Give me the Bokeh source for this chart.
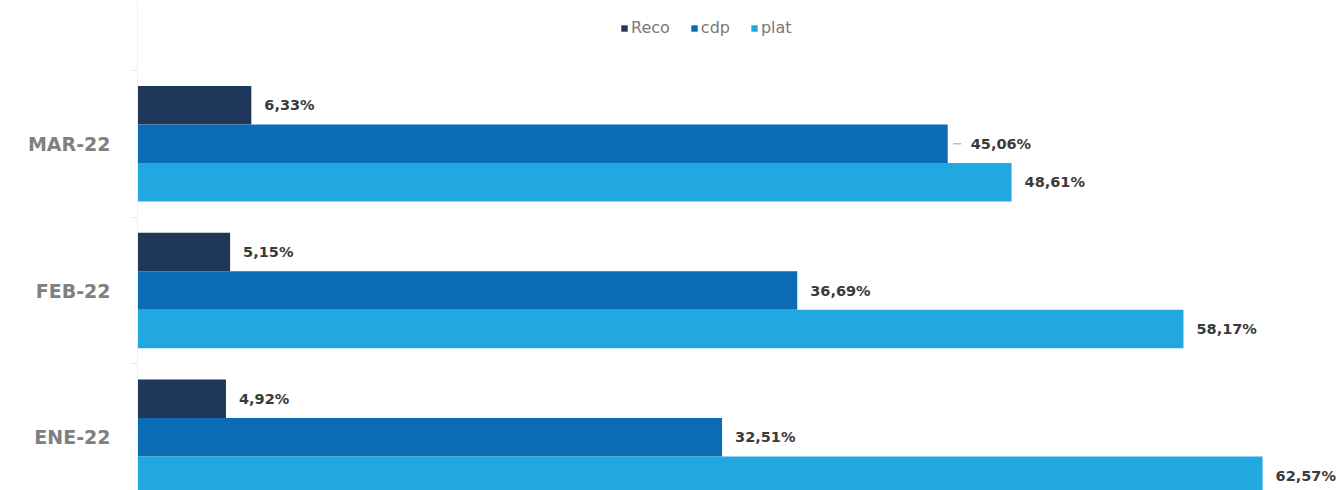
from bokeh.plotting import figure
from bokeh.models import ColumnDataSource, Range1d, FixedTicker, Legend, LegendItem
from bokeh.transform import dodge
from bokeh.core.properties import value
from bokeh.embed import file_html
from bokeh.resources import INLINE

# ---- data ----
months = ["ENE-22", "FEB-22", "MAR-22"]
reco = [4.92, 5.15, 6.33]
cdp = [32.51, 36.69, 45.06]
plat = [62.57, 58.17, 48.61]
series_names = ["Reco", "cdp", "plat"]
colors = ["#1e375a", "#0a6cb4", "#21a8e0"]


def fmt(v):
    return f"{v:.2f}".replace(".", ",") + "%"


pos = list(range(len(months)))
cdp_leader = [False, False, True]

src = ColumnDataSource(dict(
    pos=pos,
    Reco=reco, cdp=cdp, plat=plat,
    Reco_lbl=[fmt(v) for v in reco],
    cdp_lbl=[fmt(v) for v in cdp],
    plat_lbl=[fmt(v) for v in plat],
    cdp_off=[23 if l else 13 for l in cdp_leader],
))

BAR_H = 0.2625
offsets = [BAR_H, 0.0, -BAR_H]

p = figure(width=1343, height=490, output_backend="svg", toolbar_location=None,
           x_range=Range1d(0, 67.07), y_range=Range1d(-0.363, 2.977),
           min_border_left=137, min_border_right=0, min_border_top=0,
           min_border_bottom=0)

renderers = []
for name, col, off in zip(series_names, colors, offsets):
    r = p.hbar(y=dodge("pos", off), right=name, left=0, height=BAR_H,
               fill_color=col, line_color=None, source=src)
    renderers.append(r)
    p.text(x=name, y=dodge("pos", off), text=name + "_lbl", source=src,
           x_offset=("cdp_off" if name == "cdp" else 13),
           text_font=value("DejaVu Sans"), text_font_style="bold",
           text_font_size="14.5px", text_color="#3a3a3a",
           text_baseline="middle", text_align="left")

# small leader line for the offset label
lead_x0 = [v + 0.3 for v, l in zip(cdp, cdp_leader) if l]
lead_x1 = [v + 0.75 for v, l in zip(cdp, cdp_leader) if l]
lead_y = [pp for pp, l in zip(pos, cdp_leader) if l]
p.segment(x0=lead_x0, x1=lead_x1, y0=lead_y, y1=lead_y,
          line_color="#9a9a9a", line_width=1)

legend = Legend(items=[LegendItem(label=n, renderers=[r]) for n, r in zip(series_names, renderers)],
                orientation="horizontal", location=(483, 453),
                glyph_width=8, glyph_height=8, label_standoff=3, spacing=20,
                label_text_font="DejaVu Sans", label_text_font_size="16px",
                label_text_color="#787878", padding=2, margin=0,
                border_line_color=None, background_fill_alpha=0)
p.add_layout(legend, "center")

p.xaxis.visible = False
p.xgrid.visible = False
p.ygrid.visible = False
p.outline_line_color = None

yax = p.yaxis[0]
yax.ticker = FixedTicker(ticks=pos, minor_ticks=[i + 0.5 for i in pos])
yax.major_label_overrides = {i: m for i, m in zip(pos, months)}
yax.major_tick_line_color = None
yax.minor_tick_line_color = "#e2e2e2"
yax.minor_tick_out = 5
yax.minor_tick_in = 0
yax.axis_line_color = "#f0f0f0"
yax.major_label_standoff = 21
yax.major_label_text_font = "DejaVu Sans"
yax.major_label_text_font_style = "bold"
yax.major_label_text_font_size = "19px"
yax.major_label_text_color = "#808080"

open("out.html", "w").write(file_html(p, INLINE))
